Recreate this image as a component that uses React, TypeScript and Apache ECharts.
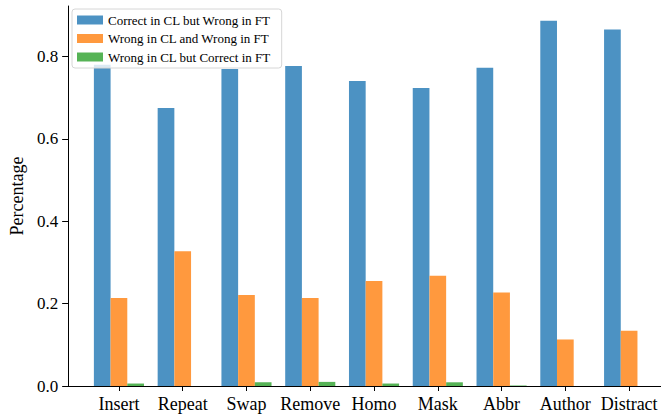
import React, { useEffect, useRef } from "react";
import * as echarts from "echarts";

const categories = ["Insert", "Repeat", "Swap", "Remove", "Homo", "Mask", "Abbr", "Author", "Distract"];
const correctCLWrongFT = [0.780, 0.675, 0.770, 0.777, 0.741, 0.724, 0.773, 0.887, 0.866];
const wrongCLWrongFT = [0.214, 0.327, 0.221, 0.214, 0.255, 0.268, 0.227, 0.113, 0.134];
const wrongCLCorrectFT = [0.006, 0.0, 0.009, 0.010, 0.006, 0.009, 0.001, 0.0, 0.0];
const yTicks = [0, 0.2, 0.4, 0.6, 0.8];
const seriesNames = [
  "Correct in CL but Wrong in FT",
  "Wrong in CL and Wrong in FT",
  "Wrong in CL but Correct in FT",
];

const FONT = "Liberation Serif";
const Y_MAX = 0.923;

export default function App() {
  const ref = useRef<HTMLDivElement>(null);
  useEffect(() => {
    if (!ref.current) return;
    const chart = echarts.init(ref.current, undefined, { renderer: "svg" });
    const colors = ["#4c92c3", "#ff993e", "#56b356"];
    const data = [correctCLWrongFT, wrongCLWrongFT, wrongCLCorrectFT];
    chart.setOption({
      animation: false,
      backgroundColor: "#ffffff",
      grid: [
        { left: 65, right: 0, top: 6, height: 380 },
        { left: 87.05, width: 575.1, top: 6, height: 380 },
      ],
      legend: {
        orient: "vertical",
        left: 72,
        top: 9,
        padding: [4, 11, 4, 5],
        itemWidth: 26,
        itemHeight: 9,
        itemGap: 4.5,
        icon: "rect",
        backgroundColor: "rgba(255,255,255,0.8)",
        borderColor: "#d6d6d6",
        borderWidth: 1,
        borderRadius: 3,
        textStyle: {
          fontFamily: FONT,
          fontSize: 13,
          color: "#000",
          lineHeight: 14,
        },
        data: seriesNames,
      },
      xAxis: [
        {
          type: "value",
          gridIndex: 0,
          min: 0,
          max: 1,
          axisLine: { show: true, lineStyle: { color: "#000", width: 1 } },
          axisTick: { show: false },
          axisLabel: { show: false },
          splitLine: { show: false },
        },
        {
          type: "category",
          gridIndex: 1,
          data: categories,
          axisLine: { show: false },
          axisTick: { show: true, alignWithLabel: true, interval: 0, length: 5, lineStyle: { color: "#000" } },
          axisLabel: {
            fontFamily: FONT,
            fontSize: 18,
            color: "#000",
            margin: 9,
            interval: 0,
            hideOverlap: false,
          },
          splitLine: { show: false },
        },
      ],
      yAxis: [
        {
          type: "value",
          gridIndex: 0,
          min: 0,
          max: Y_MAX,
          name: "Percentage",
          nameLocation: "middle",
          nameRotate: 90,
          nameGap: 38,
          nameTextStyle: { fontFamily: FONT, fontSize: 18, color: "#000" },
          axisLine: { show: true, lineStyle: { color: "#000", width: 1 } },
          axisTick: { show: true, length: 6, lineStyle: { color: "#000" }, customValues: yTicks },
          axisLabel: {
            fontFamily: FONT,
            fontSize: 17,
            color: "#000",
            margin: 10,
            customValues: yTicks,
            formatter: (v: number) => v.toFixed(1),
          },
          splitLine: { show: false },
        },
        {
          type: "value",
          gridIndex: 1,
          min: 0,
          max: Y_MAX,
          show: false,
          splitLine: { show: false },
        },
      ],
      series: seriesNames.map((name, i) => ({
        name,
        type: "bar",
        xAxisIndex: 1,
        yAxisIndex: 1,
        data: data[i],
        barWidth: 16.7,
        barGap: "0%",
        itemStyle: { color: colors[i] },
      })),
    });
    return () => chart.dispose();
  }, []);
  return (
    <div
      ref={ref}
      style={{ position: "fixed", left: 0, top: 0, width: 661, height: 417 }}
    />
  );
}
